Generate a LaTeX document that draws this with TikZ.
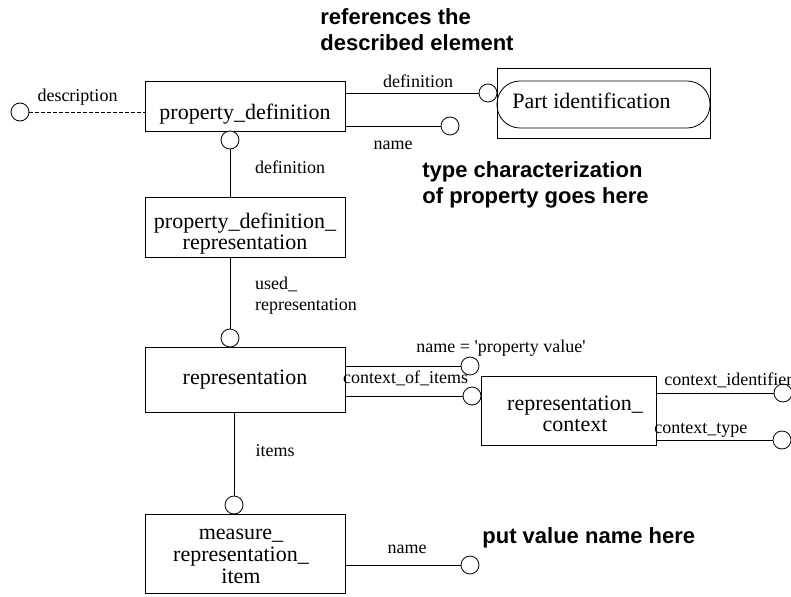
\documentclass[tikz,border=0pt]{standalone}
\usepackage{fontspec}
\setmainfont{Liberation Serif}
\newfontfamily\notefont{Liberation Sans}
\usepackage{tikz}

\begin{document}
\begin{tikzpicture}[x=1pt,y=-1pt,line width=0.8pt,
	entity/.style={draw,rectangle,inner sep=0pt,align=center,font=\fontsize{22}{22}\selectfont},
	ring/.style={draw,circle,fill=white,minimum size=18pt,inner sep=0pt},
	lbl/.style={font=\fontsize{18}{21}\selectfont,inner sep=0pt},
	note/.style={font=\notefont\bfseries\fontsize{22}{25.5}\selectfont,align=left,inner sep=0pt,anchor=west}]
				\useasboundingbox (0,0) rectangle (791,596);
				% entities
				\node[entity,minimum width=200pt,minimum height=50pt] (pd) at (245,106) {};
				\node[font=\fontsize{22}{22}\selectfont] at (245,114) {property\_definition};
				\node[entity,minimum width=200pt,minimum height=60pt] (pdr) at (245,227) {};
				\node[align=center,font=\fontsize{22}{21}\selectfont] at (245,234) {property\_definition\_\\representation};
				\node[entity,minimum width=200pt,minimum height=65pt] (rep) at (245,379.5) {representation};
				\node[entity,minimum width=175pt,minimum height=69pt] (rc) at (568.5,410.5) {};
				\node[align=center,font=\fontsize{22}{21}\selectfont] at (575,414) {representation\_\\context};
				\node[entity,minimum width=200pt,minimum height=79pt] (mri) at (245,553.5) {};
				\node[align=center,font=\fontsize{22}{22}\selectfont] at (241,556) {measure\_\\representation\_\\item};
				\node[draw,minimum width=213pt,minimum height=70pt,inner sep=0pt] (pi) at (603.5,103) {};
				\node[draw,rounded corners=23pt,minimum width=213pt,minimum height=47pt,inner sep=0pt] (pin) at (603.5,104.5) {};
				\node[font=\fontsize{22}{22}\selectfont,anchor=west,inner sep=0pt] at (512,101) {Part identification};
				% rings
				\node[ring] (desc) at (20,112) {};
				\node[ring] (pddef) at (230,140) {};
				\node[ring] (pdpi) at (488,93) {};
				\node[ring] (pdname) at (450,126) {};
				\node[ring] (usedrep) at (230,338) {};
				\node[ring] (repname) at (470,366) {};
				\node[ring] (repctx) at (472,396) {};
				\node[ring] (ctxid) at (783,393) {};
				\node[ring] (ctxtype) at (782,440) {};
				\node[ring] (items) at (234,505) {};
				\node[ring] (mriname) at (470,565) {};
				% connectors
				\draw[dash pattern=on 4pt off 2pt] (desc.east) -- (desc -| pd.west);
				\draw (pdpi.west) -- (pdpi -| pd.east);
				\draw (pdname.west) -- (pdname -| pd.east);
				\draw (pddef.south) -- (pddef |- pdr.north);
				\draw (usedrep.north) -- (usedrep |- pdr.south);
				\draw (repname.west) -- (repname -| rep.east);
				\draw (repctx.west) -- (repctx -| rep.east);
				\draw (ctxid.west) -- (ctxid -| rc.east);
				\draw (ctxtype.west) -- (ctxtype -| rc.east);
				\draw (items.north) -- (items |- rep.south);
				\draw (mriname.west) -- (mriname -| mri.east);
				% labels
				\node[lbl] at (77.5,97) {description};
				\node[lbl] at (418,81) {definition};
				\node[lbl] at (393,145) {name};
				\node[lbl] at (290,167) {definition};
				\node[lbl,align=left] at (306,295.5) {used\_\\representation};
				\node[lbl] at (501,348) {name = \textquotesingle property value\textquotesingle};
				\node[lbl] at (405.5,378) {context\_of\_items};
				\node[lbl,anchor=west] at (664,380) {context\_identifier};
				\node[lbl,anchor=west] at (654,430) {context\_type};
				\node[lbl] at (275,451) {items};
				\node[lbl] at (407,549) {name};
				% notes
				\node[note] at (320,29.5) {references the\\described element};
				\node[note] at (422,185) {type characterization\\of property goes here};
				\node[note] at (482,538) {put value name here};
\end{tikzpicture}
\end{document}
